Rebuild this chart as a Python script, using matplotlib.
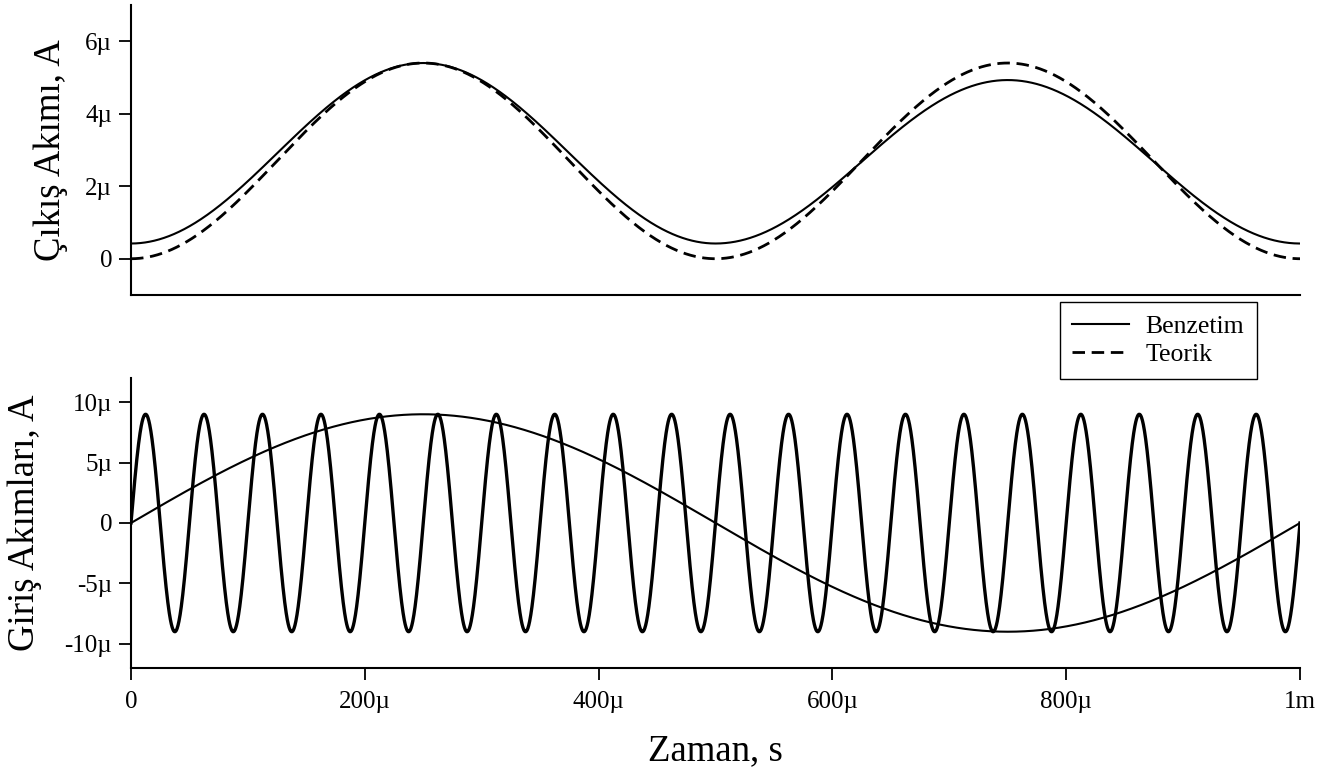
#! /usr/bin/env python
# -*- coding: utf-8 -*-
"""
Cikis akimi ve giris akimlari (benzetim / teorik)
"""
import numpy as np
import matplotlib
matplotlib.use('Agg')
import matplotlib.pyplot as plt

## Data
# Cikis akimi, uA : extremum times (us) and values
out_ext_t     = [0, 250, 500, 750, 1000]
out_benzetim  = [0.42, 5.40, 0.42, 4.93, 0.42]
out_teorik    = [0.00, 5.40, 0.00, 5.40, 0.00]
# Giris akimlari, uA
in_slow_amp   = 9.0    # 1 kHz input
in_slow_freq  = 1.0e3
in_fast_amp   = 9.0    # 20 kHz input
in_fast_freq  = 20.0e3
# Ticks
top_yticks    = [0, 2, 4, 6]
top_ylabels   = ['0', '2\u00b5', '4\u00b5', '6\u00b5']
bot_yticks    = [-10, -5, 0, 5, 10]
bot_ylabels   = ['-10\u00b5', '-5\u00b5', '0', '5\u00b5', '10\u00b5']
xticks        = [0, 200, 400, 600, 800, 1000]
xlabels       = ['0', '200\u00b5', '400\u00b5', '600\u00b5', '800\u00b5', '1m']
legend_names  = ['Benzetim', 'Teorik']


def half_cosine(t, ext_t, ext_v):
    """
    Smooth waveform passing through the extrema read off the picture
    """
    y = np.zeros_like(t)
    for i in range(len(ext_t) - 1):
        t0, t1 = ext_t[i], ext_t[i + 1]
        v0, v1 = ext_v[i], ext_v[i + 1]
        m = (t >= t0) & (t <= t1)
        ph = (t[m] - t0) / (t1 - t0)
        y[m] = v0 + (v1 - v0) * (1. - np.cos(np.pi * ph)) / 2.
    return y


def main():
    plt.rcParams['font.family'] = ['Liberation Serif', 'DejaVu Serif']
    #
    t = np.linspace(0, 1000, 4001)  # us
    benzetim = half_cosine(t, out_ext_t, out_benzetim)
    teorik   = half_cosine(t, out_ext_t, out_teorik)
    slow = in_slow_amp * np.sin(2 * np.pi * in_slow_freq * t * 1e-6)
    fast = in_fast_amp * np.sin(2 * np.pi * in_fast_freq * t * 1e-6)
    #
    fig = plt.figure(figsize=(13.38, 7.74), dpi=100)
    ax1 = fig.add_axes([0.0979, 0.6189, 0.8737, 0.3746])
    ax2 = fig.add_axes([0.0979, 0.137, 0.8737, 0.3746])
    #
    l1, = ax1.plot(t, benzetim, color='black', lw=1.5, label=legend_names[0])
    l2, = ax1.plot(t, teorik, color='black', lw=2.0,
                   linestyle=(0, (4.5, 2.4)), label=legend_names[1])
    ax2.plot(t, slow, color='black', lw=1.5)
    ax2.plot(t, fast, color='black', lw=2.4)
    #
    for ax in (ax1, ax2):
        ax.set_xlim(0, 1000)
        for s in ('top', 'right'):
            ax.spines[s].set_visible(False)
        for s in ('left', 'bottom'):
            ax.spines[s].set_linewidth(1.5)
        ax.tick_params(axis='both', direction='out', length=8.5, width=1.3,
                       labelsize=18, pad=5)
    #
    ax1.set_ylim(-1, 7)
    ax1.set_yticks(top_yticks)
    ax1.set_yticklabels(top_ylabels)
    ax1.tick_params(axis='x', bottom=False, labelbottom=False)
    ax1.set_ylabel('\u00c7\u0131k\u0131\u015f Ak\u0131m\u0131, A', fontsize=26.5)
    ax1.yaxis.set_label_coords(-0.054, 0.5)
    #
    ax2.set_ylim(-12, 12)
    ax2.set_yticks(bot_yticks)
    ax2.set_yticklabels(bot_ylabels)
    ax2.set_xticks(xticks)
    ax2.set_xticklabels(xlabels)
    ax2.tick_params(axis='x', pad=8)
    ax2.set_ylabel('Giri\u015f Ak\u0131mlar\u0131, A', fontsize=26.5)
    ax2.yaxis.set_label_coords(-0.076, 0.5)
    ax2.set_xlabel('Zaman, s', fontsize=26.5, labelpad=15)
    #
    leg = fig.legend(handles=[l1, l2], loc='upper right',
                     bbox_to_anchor=(0.9395, 0.6098), fontsize=18.5,
                     fancybox=False, edgecolor='black', framealpha=1,
                     handlelength=2.2, borderaxespad=0., borderpad=0.5,
                     labelspacing=0.22, handletextpad=0.65)
    leg.get_frame().set_linewidth(1.0)
    #
    fig.savefig('out.png', dpi=100)


if __name__ == '__main__':
    main()
